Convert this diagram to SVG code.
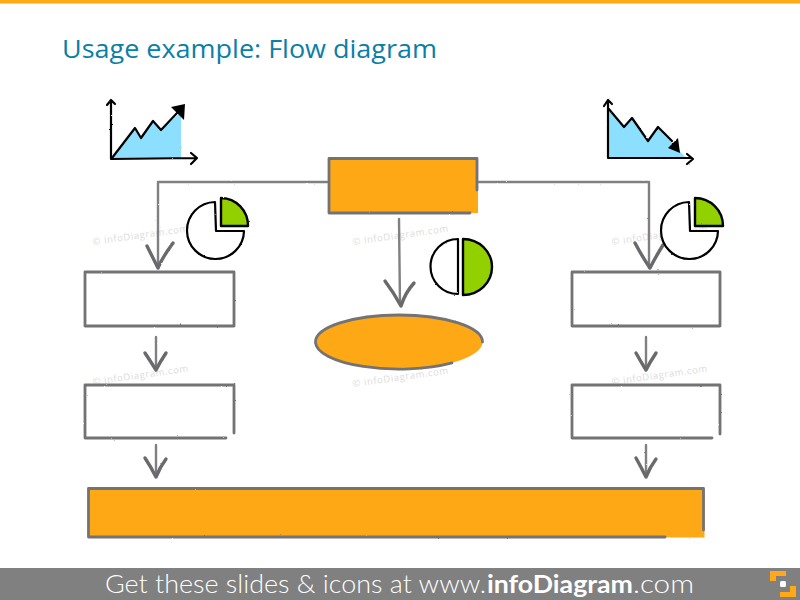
<svg xmlns="http://www.w3.org/2000/svg" width="800" height="600" viewBox="0 0 800 600">
<defs>
<filter id="rough" x="-5%" y="-5%" width="110%" height="110%" filterUnits="objectBoundingBox">
<feTurbulence type="fractalNoise" baseFrequency="0.35" numOctaves="2" seed="4" result="n"/>
<feDisplacementMap in="SourceGraphic" in2="n" scale="1.6" xChannelSelector="R" yChannelSelector="G"/>
</filter>
</defs>
<style>
.line{fill:none;stroke:#737376;stroke-width:2.8;stroke-linejoin:round;stroke-linecap:round}
.white{fill:#fff;stroke:none}
.orange{fill:#ffa818;stroke:none}
.conn{fill:none;stroke:#808083;stroke-width:2.4;stroke-linecap:round;stroke-linejoin:round}
.head{fill:none;stroke:#6a6a6d;stroke-width:3.4;stroke-linecap:round;stroke-linejoin:round}
.ink{fill:none;stroke:#000;stroke-width:2.2;stroke-linecap:round;stroke-linejoin:round}
.pie{fill:#fff;stroke:#000;stroke-width:2.2;stroke-linejoin:round}
.green{fill:#92d000;stroke:#000;stroke-width:2.4;stroke-linejoin:round}
.sky{fill:#8cdfff}
.wm{font-family:"Open Sans","Liberation Sans",sans-serif;font-size:9.500px;letter-spacing:.6px;fill:#dcdcdc}
.title{font-family:"Open Sans","Liberation Sans",sans-serif;font-size:25.500px;fill:#0a7fa8}
.foot{font-family:"Lato","Liberation Sans",sans-serif;font-size:25px;fill:#fff;font-weight:300}
.footb{font-family:"Lato","Liberation Sans",sans-serif;font-size:25px;fill:#fff;font-weight:700}
</style>
<rect id="top-bar" width="800" height="3.500" fill="#ffa818"/>
<text id="title" class="title" x="62" y="58" textLength="375" lengthAdjust="spacingAndGlyphs">Usage example: Flow diagram</text>

<g id="watermarks">
<text class="wm" transform="translate(93 245) rotate(-8)">© infoDiagram.com</text>
<text class="wm" transform="translate(353 245) rotate(-8)">© infoDiagram.com</text>
<text class="wm" transform="translate(612 245) rotate(-8)">© infoDiagram.com</text>
<text class="wm" transform="translate(93 385) rotate(-8)">© infoDiagram.com</text>
<text class="wm" transform="translate(353 387) rotate(-8)">© infoDiagram.com</text>
<text class="wm" transform="translate(612 385) rotate(-8)">© infoDiagram.com</text>
</g>

<g id="connectors" filter="url(#rough)">
<path class="conn" d="M158 182L327 182M158 182L158 268"/>
<path class="head" d="M147 246Q153 258 158 268Q162 258 173 243"/>
<path class="conn" d="M479 182L649 182L649 268"/>
<path class="head" d="M635 243Q643 258 650 268Q655 258 663 245"/>
<path class="conn" d="M399 219L400 305"/>
<path class="head" d="M385 281Q394 293 401 306Q405 293 414 283"/>
<path class="conn" d="M156 337L156 369"/>
<path class="head" d="M145 353Q151 362 156 370Q160 362 166 353"/>
<path class="conn" d="M156 445L156 476"/>
<path class="head" d="M145 458Q151 467 156 477Q160 467 166 459"/>
<path class="conn" d="M646 337L646 369"/>
<path class="head" d="M636 353Q641 362 646 370Q650 362 656 353"/>
<path class="conn" d="M646 445L646 476"/>
<path class="head" d="M636 458Q641 467 646 477Q650 467 656 459"/>
</g>

<g id="chart-up" filter="url(#rough)">
<path class="sky" d="M112 158L135 128L141 138L153 121L161 130L181 112L181 158Z"/>
<path class="ink" d="M111 159L111 101M107 105L111 100L115 104M111 159L196 158M191 153L197 158L191 164"/>
<path class="ink" stroke-width="2.600" d="M112 158L135 128L141 138L153 121L161 130L178 112"/>
<path d="M171 107L185 104L184 120Z" fill="#000"/>
</g>
<g id="chart-down" filter="url(#rough)">
<path class="sky" d="M608 108L624 127L632 117L648 141L658 127L686 158L608 158Z"/>
<path class="ink" d="M608 158L608 101M604 106L608 100L612 104M608 158L692 158M687 154L693 159L687 164"/>
<path class="ink" stroke-width="2.600" d="M608 108L624 127L632 118L648 141L658 127L672 141"/>
<path d="M668 148L678 138L680 153Z" fill="#000"/>
</g>

<g id="pie-left" filter="url(#rough)">
<path class="pie" d="M215 202A28.500 28.500 0 1 0 244 231L216 231L215 202Z"/>
<path class="green" d="M221 198A27.500 27.500 0 0 1 248 226L221 226Z"/>
</g>
<g id="pie-right" filter="url(#rough)">
<path class="pie" d="M689 202A28.500 28.500 0 1 0 718 231L690 231L689 202Z"/>
<path class="green" d="M695 198A28 28 0 0 1 723 226L695 226Z"/>
</g>
<g id="pie-center" filter="url(#rough)">
<path class="pie" d="M458 239A27.500 27.500 0 0 0 458 294Z"/>
<path class="green" d="M463 239A29 28 0 0 1 463 295Z"/>
</g>

<g id="node-top" filter="url(#rough)">
<rect class="orange" x="329" y="159" width="149" height="54"/>
<path class="line" d="M477 190V158.500H329V213H470"/>
</g>
<g id="node-ellipse" filter="url(#rough)">
<ellipse class="orange" cx="399" cy="342" rx="83.500" ry="27"/>
<path class="line" stroke-width="3.400" d="M482.500 342A83.500 27 0 0 0 315.500 342A83.500 27 0 0 0 452 362.900"/>
</g>
<g id="node-left-1" filter="url(#rough)">
<rect class="white" x="85" y="272" width="149" height="54"/>
<path class="line" d="M234 326V272H85V326H234"/>
</g>
<g id="node-left-2" filter="url(#rough)">
<rect class="white" x="85" y="385" width="149" height="53"/>
<path class="line" d="M234 433V385H85V438H226"/>
</g>
<g id="node-right-1" filter="url(#rough)">
<rect class="white" x="572" y="272" width="148" height="54"/>
<path class="line" d="M720 326V272H572V326H720"/>
</g>
<g id="node-right-2" filter="url(#rough)">
<rect class="white" x="572" y="385" width="148" height="53"/>
<path class="line" d="M720 434V385H572V438H712"/>
</g>
<g id="node-bottom" filter="url(#rough)">
<rect class="orange" x="88.500" y="488.500" width="616" height="49"/>
<path class="line" d="M703.500 530V488.500H88.500V537H665"/>
</g>

<g id="footer">
<rect y="568" width="800" height="32" fill="#808080"/>
<text class="foot" x="105" y="593" textLength="381" lengthAdjust="spacingAndGlyphs">Get these slides &amp; icons at www.</text>
<text class="footb" x="487" y="593" textLength="146" lengthAdjust="spacingAndGlyphs">infoDiagram</text>
<text class="foot" x="633" y="593" textLength="61" lengthAdjust="spacingAndGlyphs">.com</text>
<path d="M770 571H786V576H776V581H770Z" fill="#ffa818"/>
<path d="M796 586V597H780V592H790V586Z" fill="#ffa818"/>
<rect x="780" y="581" width="6" height="6" rx="1.500" fill="#fff"/>
</g>
</svg>
